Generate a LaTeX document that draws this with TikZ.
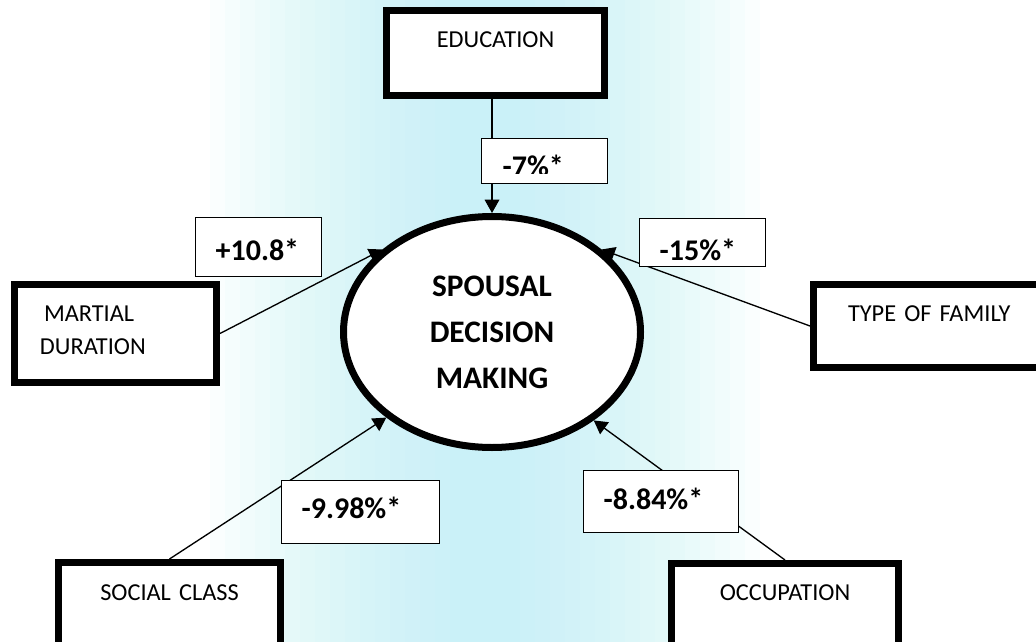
\documentclass[tikz,border=0pt]{standalone}
\usepackage{fontspec}
\setmainfont{Carlito}
\usetikzlibrary{arrows.meta,shapes.geometric}

\definecolor{wmcyan}{RGB}{180,241,248}

\tikzset{every picture/.style={line width=0.75pt}}
\tikzset{
  factor/.style={draw, line width=5.25pt, fill=white, inner sep=0pt, anchor=north west,
    font=\fontsize{18.25}{24.75}\selectfont},
  effect/.style={draw, line width=1pt, fill=white, inner xsep=15pt, inner ysep=0pt, anchor=north west,
    align=left, font=\fontsize{22.5}{26}\selectfont\bfseries},
  link/.style={line width=1pt, -{Triangle[length=10pt,width=11pt]}},
}

\begin{document}
\begin{tikzpicture}[x=0.75pt,y=0.75pt,yscale=-1,xscale=1]
%Page frame
\path[use as bounding box, clip] (0,0) rectangle (1036,642);
\fill[white] (0,0) rectangle (1036,642);
%Faint cyan band behind the chart, built up in strips
\foreach \w in {275,260,...,35}
  \fill[wmcyan, fill opacity=0.06] (485-\w,0) rectangle (485+\w,642);

%Shape: Rectangle (factors)
\node[factor, align=center, text width=163.5pt, text height=27.75pt, text depth=36pt] (edu) at (383,7) {EDUCATION};
\node[factor, align=left, inner xsep=19.125pt, text width=113.25pt, text height=27.75pt, text depth=45.75pt] (mart) at (11,281) {\hspace*{3pt}MARTIAL\\DURATION};
\node[factor, align=left, inner xsep=25.875pt, text width=163.125pt, text height=27.75pt, text depth=34.5pt] (fam) at (810,281) {TYPE OF FAMILY};
\node[factor, align=center, text width=166.5pt, text height=28.5pt, text depth=60pt] (soc) at (55,559) {SOCIAL CLASS};
\node[factor, align=center, text width=170.25pt, text height=27.75pt, text depth=60pt] (occ) at (668,560) {OCCUPATION};

%Shape: Ellipse
\node[draw, ellipse, line width=5.25pt, fill=white, minimum width=222.75pt, minimum height=173.25pt, inner sep=0pt,
  align=center, font=\fontsize{23.5}{34.5}\selectfont\bfseries] (sdm) at (492,332) {SPOUSAL\\DECISION\\MAKING};

%Straight Lines
\draw[link] (sdm.north |- edu.south) -- (sdm.north);
\draw[link] (mart.east) -- (sdm.143.4);
\draw[link] (fam.west) -- (sdm.37.9);
\draw[link] (soc.north) -- (sdm.219.8);
\draw[link] (occ.north) -- (sdm.-41);

%Shape: Rectangle (effects)
\node[effect, text width=64.5pt, text height=28.125pt, text depth=5.625pt] (e7) at (481,138) {};
\begin{scope}
  \clip (e7.north west) rectangle (e7.east |- 0,173);
  \node[effect, draw=none, fill=none, anchor=base west, inner xsep=0pt] (e7txt) at (502,176.5) {-7\%*};
\end{scope}
\node[effect, text width=64.5pt, text height=31.875pt, text depth=12.375pt] (e108) at (195,217) {+10.8*};
\node[effect, text width=64.5pt, text height=31.125pt, text depth=4.875pt] (e15) at (639,218) {-15\%*};
\node[effect, text width=88.5pt, text height=28.125pt, text depth=19.125pt] (e998) at (281,480) {-9.98\%*};
\node[effect, text width=86.25pt, text height=28.875pt, text depth=17.625pt] (e884) at (583,470) {-8.84\%*};

\end{tikzpicture}
\end{document}
